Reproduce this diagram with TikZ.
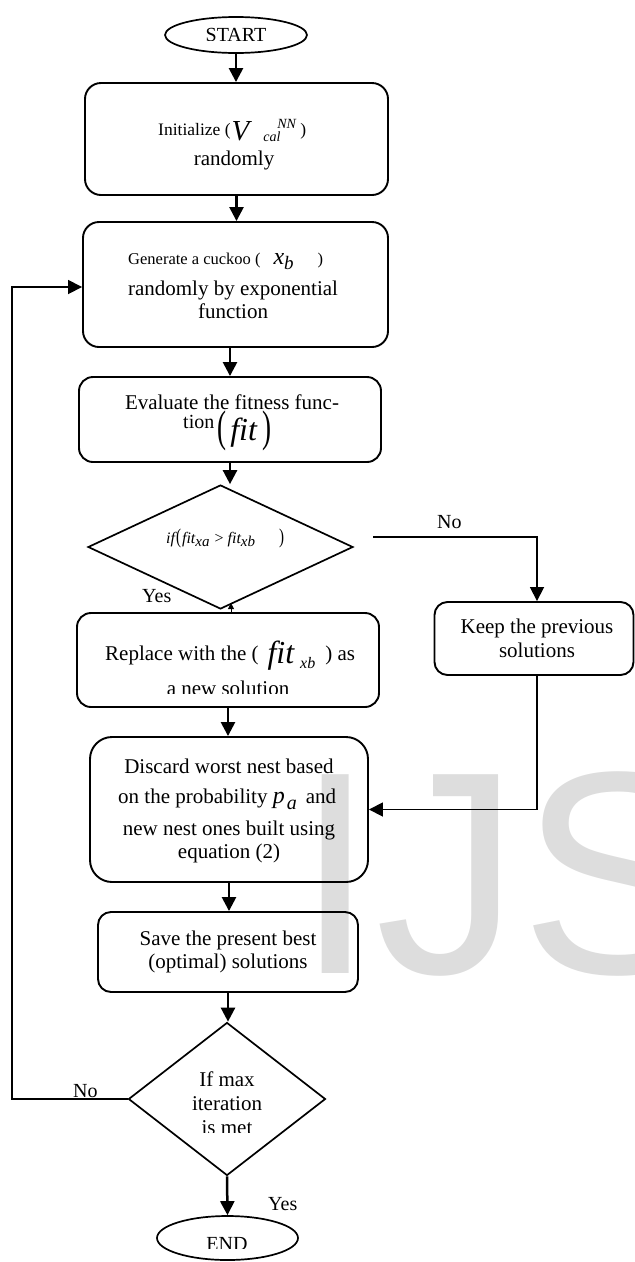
\documentclass[tikz,border=0pt]{standalone}
\usepackage{fontspec}
\setmainfont{Liberation Serif}
\newfontfamily\wmfont{Liberation Sans}
\usepackage{graphicx}
\usetikzlibrary{shapes.geometric,arrows.meta,calc}
\definecolor{wmgray}{RGB}{221,221,221}
\newcommand\fsz[1]{\fontsize{#1}{#1}\selectfont}
\tikzset{
  box/.style={draw, line width=1.9pt, rounded corners=16pt, inner sep=0pt},
  tipped/.style={-{Triangle[length=14pt,width=14pt]}},
  arr/.style={line width=2.5pt, tipped},
  conn/.style={line width=1.7pt},
  txt/.style={inner sep=0pt, anchor=base, font=\fontsize{21}{24}\selectfont},
  lbl/.style={inner sep=0pt, anchor=base west, font=\fontsize{20}{24}\selectfont},
  shp/.style={draw, line width=1.7pt, inner sep=0pt}
}
\begin{document}
\begin{tikzpicture}[x=1pt,y=-1pt]
\useasboundingbox (0,0) rectangle (635,1262);
% watermark
\begin{scope}
\clip (0,0) rectangle (635,1262);
\node[anchor=base west, inner sep=0pt, text=wmgray, font=\wmfont\fontsize{289}{289}\selectfont] (wm) at (295,973) {IJSER};
\end{scope}

% START
\node[shp, ellipse, minimum width=142pt, minimum height=36pt] (start) at (236,35) {};
\begin{scope}
\clip (170,20) rectangle (300,40);
\node[txt, font=\fsz{20}] (startt) at (236,41) {START};
\end{scope}

% Initialize
\node[box, minimum width=303pt, minimum height=112pt] (init) at (236.5,139) {};
\node[txt, anchor=base west] (init1) at (158,135) {\fsz{17.5}Initialize (\kern1pt\raisebox{-5pt}{\fsz{29}\itshape V}\kern14pt\rlap{\kern14pt\raisebox{7pt}{\fsz{14}\itshape NN}}\raisebox{-6pt}{\fsz{14}\itshape cal}\kern20pt)};
\node[txt] (init2) at (234,165) {randomly};

% Generate
\node[box, minimum width=305pt, minimum height=125pt] (gen) at (235.5,284.5) {};
\node[txt, anchor=base west] (gen1) at (128,264) {\fsz{16.5}Generate a cuckoo (\kern13pt{\fsz{24}\itshape x}\raisebox{-5pt}{\fsz{19}\itshape b}\kern24pt)};
\node[txt] (gen2) at (233,295) {randomly by exponential};
\node[txt] (gen3) at (233,318) {function};

% Evaluate
\node[box, rounded corners=14pt, minimum width=302pt, minimum height=85pt] (eval) at (230,419.5) {};
\node[txt] (eval1) at (232,409) {Evaluate the fitness func-};
\node[txt, anchor=base west] (eval2) at (183,428) {\fsz{20}tion\kern3pt\raisebox{-13pt}{\resizebox*{9pt}{40pt}{(}}\kern4pt\raisebox{-12pt}{\fsz{32}\itshape fit}\kern6pt\raisebox{-13pt}{\resizebox*{9pt}{40pt}{)}}};

% Decision 1
\node[shp, diamond, minimum width=265pt, minimum height=124pt] (dec1) at (220.5,547) {};
\node[txt, anchor=base west] (dec1t) at (166,543) {\fsz{16}\itshape if\kern1pt\upshape\resizebox*{5pt}{19pt}{(}\kern1pt\itshape fit\raisebox{-3pt}{\fsz{15}\itshape xa}\kern5pt\upshape{>}\kern4pt\itshape fit\raisebox{-3pt}{\fsz{15}\itshape xb}\kern24pt\upshape\resizebox*{5pt}{19pt}{)}};
\node[lbl] (yes1) at (142,602) {Yes};
\node[lbl] (no1) at (437,528) {No};

% Replace
\node[box, rounded corners=14pt, minimum width=302pt, minimum height=94pt] (repl) at (228,660) {};
\node[txt, anchor=base west] (repl1) at (105,660) {Replace with the (\kern9pt\raisebox{-3pt}{\fsz{32}\itshape fit}\kern6pt\raisebox{-8pt}{\fsz{16}\itshape xb}\kern10pt) as};
\begin{scope}
\clip (100,670) rectangle (360,693);
\node[txt] (repl2) at (228,695) {a new solution};
\end{scope}

% Keep
\node[box, rounded corners=13pt, minimum width=199pt, minimum height=73pt] (keep) at (534,638.5) {};
\node[txt] (keep1) at (537,633) {Keep the previous};
\node[txt] (keep2) at (537,657) {solutions};

% Discard
\node[box, rounded corners=22pt, minimum width=278pt, minimum height=145pt] (disc) at (229,809.5) {};
\node[txt] (disc1) at (229,773) {Discard worst nest based};
\node[txt, anchor=base west] (disc2) at (118,803) {on the probability {\fsz{24}\itshape p}\kern2pt\raisebox{-6pt}{\fsz{20}\itshape a}\kern9pt{}and};
\node[txt] (disc3) at (229,835) {new nest ones built using};
\node[txt] (disc4) at (229,858) {equation (2)};

% Save
\node[box, rounded corners=13pt, minimum width=260pt, minimum height=80pt] (save) at (228,952) {};
\node[txt] (save1) at (228,945) {Save the present best};
\node[txt] (save2) at (228,968) {(optimal) solutions};

% Decision 2
\node[shp, diamond, minimum width=197pt, minimum height=153pt] (dec2) at (227,1099) {};
\node[txt] (dec2a) at (227,1086) {If max};
\node[txt] (dec2b) at (227,1110) {iteration};
\begin{scope}
\clip (170,1112) rectangle (290,1132);
\node[txt] (dec2c) at (227,1134) {is met};
\end{scope}
\node[lbl] (no2) at (73,1097) {No};
\node[lbl] (yes2) at (268,1210) {Yes};

% END
\node[shp, ellipse, minimum width=141pt, minimum height=44pt] (end) at (227.5,1238) {};
\begin{scope}
\clip (160,1220) rectangle (295,1248);
\node[txt, font=\fsz{20}] (endt) at (227,1250) {END};
\end{scope}

% connectors
\draw[arr] (start.south) -- (start.south |- init.north);
\draw[arr] (init.south) -- (init.south |- gen.north);
\draw[arr] (eval.north |- gen.south) -- (eval.north);
\draw[arr] (eval.south) -- (eval.south |- dec1.north);
\draw[line width=1pt, -{Triangle[length=6pt,width=6pt]}] ($(repl.north)+(3,0)$) -- ($(repl.north)+(3,-9)$);
\coordinate (n1) at (373,537);
\draw[conn, tipped] (n1) -| ([xshift=3pt]keep.north);
\draw[conn, tipped] ([xshift=3pt]keep.south) |- (disc.east);
\draw[arr] (repl.south) -- (repl.south |- disc.north);
\draw[arr] (disc.south) -- (disc.south |- save.north);
\draw[arr] (save.south) -- (save.south |- dec2.north);
\coordinate (fb) at (12,287);
\draw[conn, tipped] (dec2.west) -| (fb) -- (fb -| gen.west);
\draw[arr] (dec2.south) -- (end.north);
\end{tikzpicture}
\end{document}
